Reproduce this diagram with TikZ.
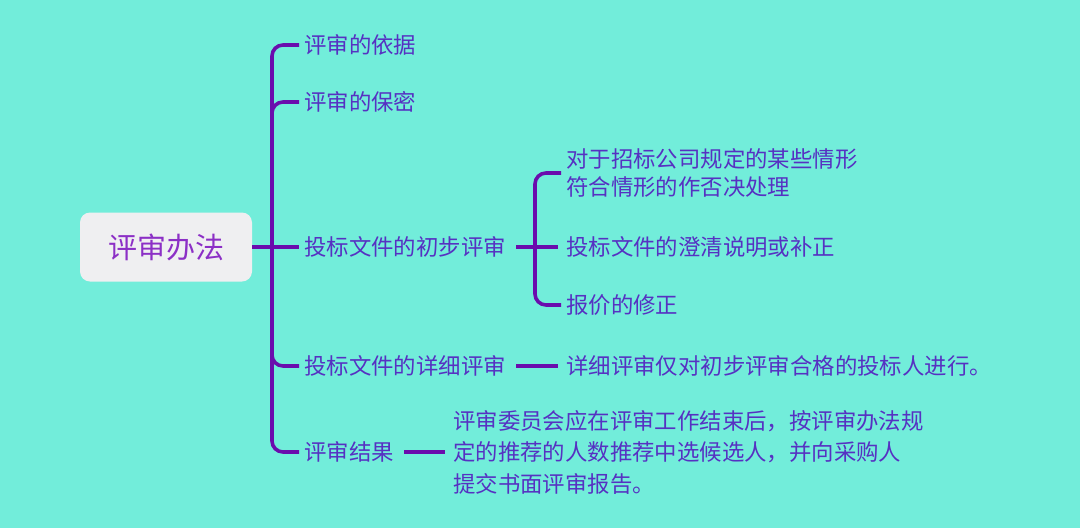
\documentclass[tikz,border=0pt]{standalone}
\usepackage{fontspec}
\setmainfont{Noto Sans CJK SC}
\usepackage{tikz}
\usetikzlibrary{positioning,calc}
\definecolor{canvas}{HTML}{72EDDA}
\definecolor{branch}{HTML}{6A0DAD}
\definecolor{ink}{HTML}{5631C2}
\definecolor{rootink}{HTML}{8C2FC6}
\definecolor{rootbg}{HTML}{EFEFF1}

\begin{document}
\begin{tikzpicture}[x=1pt, y=-1pt,
  rootbox/.style={fill=rootbg, rounded corners=10pt, minimum width=172pt, minimum height=69pt,
                  text=rootink, font=\fontsize{29}{34}\selectfont},
  topic/.style={anchor=west, inner sep=5pt, text=ink, align=left, font=\fontsize{22.4}{28}\selectfont},
  link/.style={draw=branch, line width=3.6pt},
  tail/.style={link, shorten <=5pt, shorten >=3pt},
  fork/.style={link, rounded corners=11pt}]
\fill[canvas] (0,0) rectangle (1080,528);
\node[rootbox] (root) at (166,247) {评审办法};
% first level
\node[topic] (basis) at (299,45) {评审的依据};
\node[topic] (secret) at (299,102) {评审的保密};
\node[topic] (prelim) at (299,247) {投标文件的初步评审};
\node[topic] (detail) at (299,366) {投标文件的详细评审};
\node[topic] (result) at (299,452) {评审结果};
% second level
\node[topic] (reject) at (561,173)
  {对于招标公司规定的某些情形\\符合情形的作否决处理};
\node[topic] (clarify) at (561,247) {投标文件的澄清说明或补正};
\node[topic] (price) at (561,305) {报价的修正};
\node[topic] (detailnote) at (561,366) {详细评审仅对初步评审合格的投标人进行。};
\node[topic, font=\fontsize{22.4}{31.5}\selectfont] (resultnote) at (448,452)
  {评审委员会应在评审工作结束后，按评审办法规\\定的推荐的人数推荐中选候选人，并向采购人\\提交书面评审报告。};
% connectors
\coordinate (hub) at (272,247);
\coordinate (subhub) at (535,247);
\draw[link] (root.east) -- (prelim.west);
\foreach \kid in {basis,secret,detail,result}
  \draw[fork] (hub) |- (\kid.west);
\draw[tail] (prelim.east) -- (clarify.west);
\foreach \kid in {reject,price}
  \draw[fork] (subhub) |- (\kid.west);
\draw[tail] (detail.east) -- (detailnote.west);
\draw[tail] (result.east) -- (resultnote.west);
\end{tikzpicture}
\end{document}
